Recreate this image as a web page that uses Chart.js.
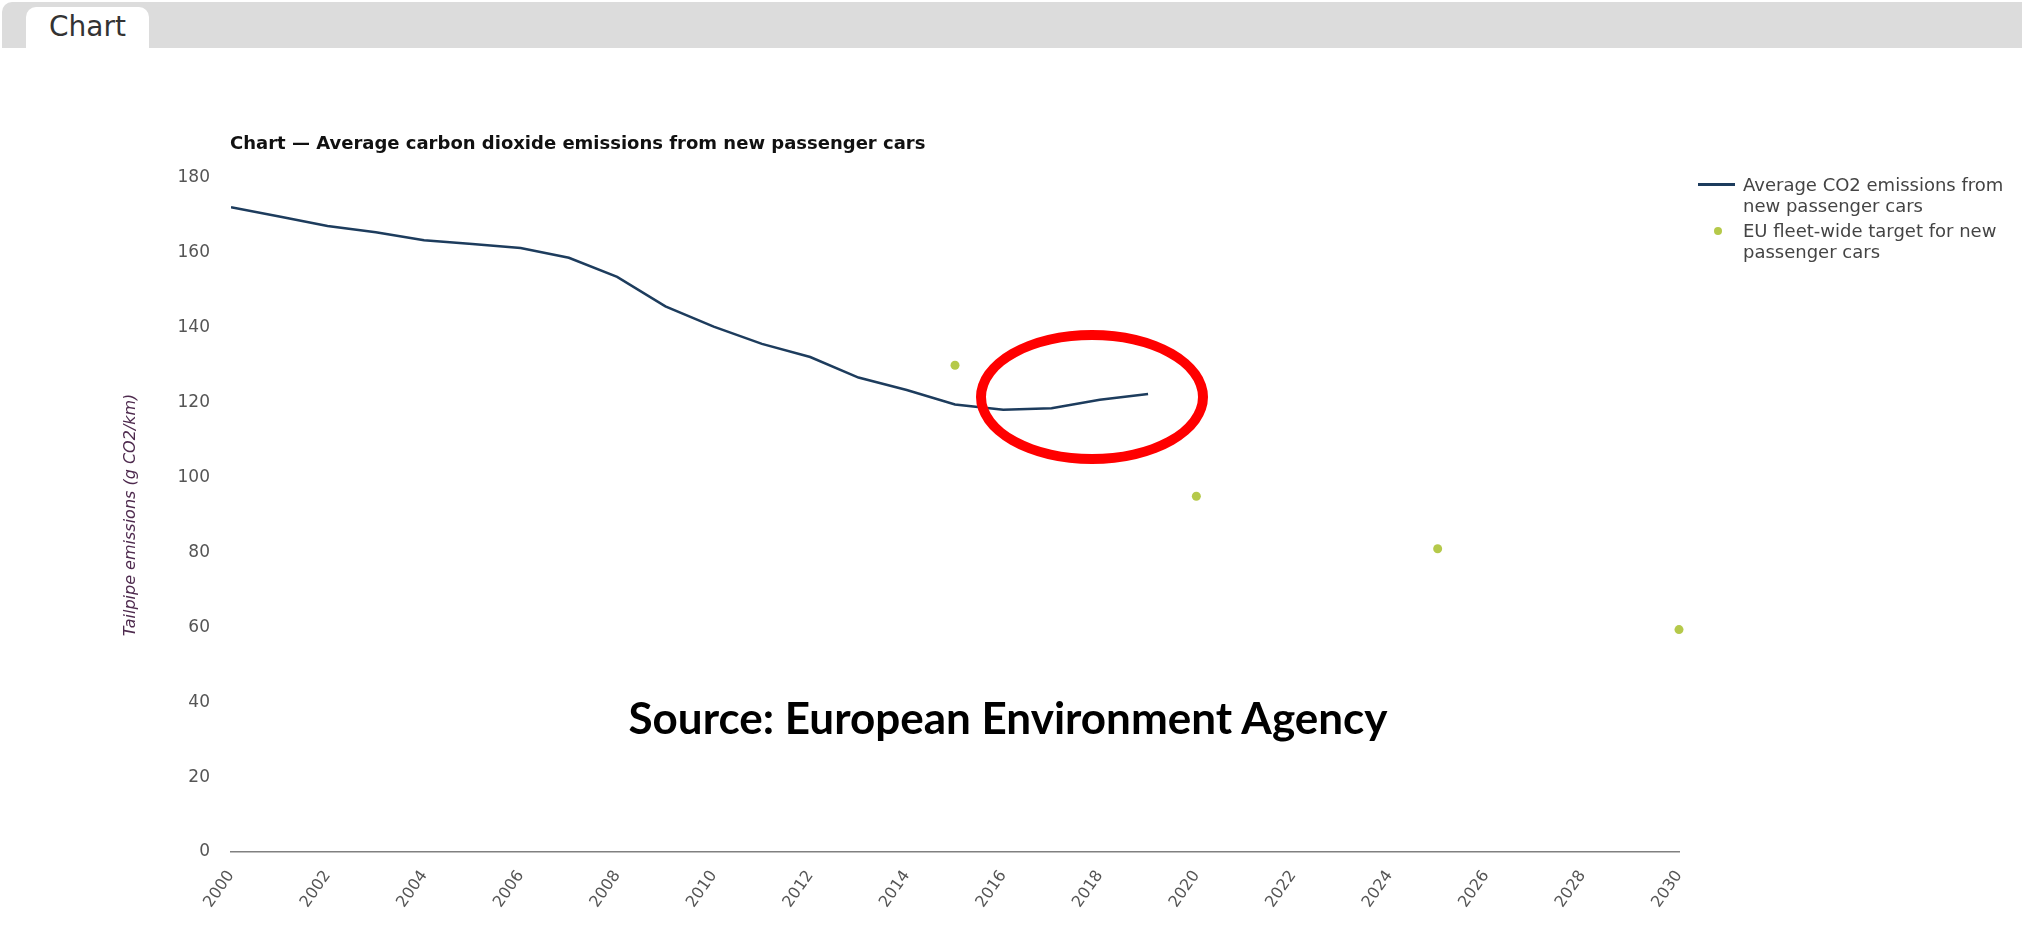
<!DOCTYPE html>
<html>
<head>
<meta charset="utf-8">
<script src="https://cdn.jsdelivr.net/npm/chart.js@4.4.1/dist/chart.umd.min.js"></script>
<style>
  html, body { margin: 0; padding: 0; background: #fff; }
  body { width: 2022px; height: 934px; position: relative; overflow: hidden; font-family: "DejaVu Sans", Verdana, sans-serif; }
  .tabbar { position: absolute; left: 2px; top: 2px; right: 0; height: 46px; background: #dcdcdc; border-top-left-radius: 10px; }
  .tab { position: absolute; left: 26px; top: 7px; width: 123px; height: 41px; background: #fff; border-radius: 10px 10px 0 0;
         font-size: 28px; color: #333; text-align: center; line-height: 40px; }
  #chart { position: absolute; left: 0; top: 0; }
  .title { position: absolute; left: 230px; top: 133px; font-weight: bold; font-size: 18px; line-height: 20px; color: #111; white-space: nowrap; }
  .legend { position: absolute; left: 1698px; top: 174px; }
  .item { position: relative; padding-left: 45px; width: 285px; font-size: 18px; line-height: 21px; color: #444; margin-bottom: 4px; }
  .item .mk { position: absolute; }
  .source { position: absolute; left: 1008px; top: 717px; transform: translate(-50%, -50%); font-family: Lato, "Open Sans", sans-serif;
            font-weight: bold; font-size: 44px; color: #000; white-space: nowrap; }
  .ring { position: absolute; left: 976px; top: 330px; width: 232px; height: 134px; box-sizing: border-box;
          border: 10px solid #ff0000; border-radius: 50%; }
</style>
</head>
<body>
<div class="tabbar"></div>
<div class="tab">Chart</div>
<canvas id="chart" width="2022" height="934"></canvas>
<div class="title">Chart — Average carbon dioxide emissions from new passenger cars</div>
<div class="legend" id="legend"></div>
<div class="source">Source: European Environment Agency</div>
<div class="ring"></div>
<script>
// average CO2 of new cars, g/km
const years = [2000, 2001, 2002, 2003, 2004, 2005, 2006, 2007, 2008, 2009,
               2010, 2011, 2012, 2013, 2014, 2015, 2016, 2017, 2018, 2019];
const avgEmissions = [172.2, 169.7, 167.2, 165.5, 163.4, 162.4, 161.3, 158.7, 153.6, 145.7,
                      140.3, 135.7, 132.2, 126.7, 123.4, 119.5, 118.1, 118.5, 120.8, 122.3];

// EU fleet-wide targets
const targetYears = [2015, 2020, 2025, 2030];
const targetValues = [130, 95, 81, 59.4];

const seriesNames = ["Average CO2 emissions from new passenger cars", "EU fleet-wide target for new passenger cars"];
const seriesColors = ["#1d3c5d", "#b5c94a"];
const yAxisTitle = "Tailpipe emissions (g CO2/km)";

new Chart(document.getElementById("chart"), {
  type: "line",
  data: {
    datasets: [
      {
        label: seriesNames[0],
        data: years.map((y, i) => ({ x: y, y: avgEmissions[i] })),
        borderColor: seriesColors[0],
        borderWidth: 2.5,
        pointRadius: 0,
        tension: 0,
        fill: false,
      },
      {
        label: seriesNames[1],
        data: targetYears.map((y, i) => ({ x: y, y: targetValues[i] })),
        showLine: false,
        pointRadius: 4.5,
        pointBackgroundColor: seriesColors[1],
        pointBorderWidth: 0,
        clip: false,
      },
    ],
  },
  options: {
    responsive: false,
    animation: false,
    devicePixelRatio: 1,
    layout: { padding: { top: 178, right: 343, bottom: 0, left: 121 } },
    plugins: {
      legend: { display: false },
      tooltip: { enabled: false },
    },
    scales: {
      x: {
        type: "linear",
        min: 2000,
        max: 2030,
        grid: { display: false, drawTicks: false },
        border: { display: true, color: "#808080", width: 1.5 },
        ticks: {
          stepSize: 2,
          autoSkip: false,
          minRotation: 55,
          maxRotation: 55,
          padding: 15,
          color: "#555",
          font: { family: "DejaVu Sans", size: 16 },
          callback: v => String(v),
        },
        afterFit: s => { s.height = 82; },
      },
      y: {
        min: 0,
        max: 180,
        grid: { display: false, drawTicks: false },
        border: { display: false },
        ticks: { stepSize: 20, padding: 21, color: "#555", font: { family: "DejaVu Sans", size: 17 } },
        title: {
          display: true,
          text: yAxisTitle,
          color: "#4e2a4e",
          padding: { top: 0, bottom: 0 },
          font: { family: "DejaVu Sans", size: 16, style: "italic" },
        },
        afterFit: s => { s.width = 110; },
      },
    },
  },
});

// legend built from the series names and colours
const legend = document.getElementById("legend");
seriesNames.forEach((name, i) => {
  const item = document.createElement("div");
  item.className = "item";
  const mk = document.createElement("span");
  mk.className = "mk";
  if (i === 0) {
    Object.assign(mk.style, { left: "0px", top: "9px", width: "37px", height: "3px", background: seriesColors[i] });
  } else {
    Object.assign(mk.style, { left: "16px", top: "6.5px", width: "8px", height: "8px", borderRadius: "50%", background: seriesColors[i] });
  }
  item.appendChild(mk);
  item.appendChild(document.createTextNode(name));
  legend.appendChild(item);
});
</script>
</body>
</html>
